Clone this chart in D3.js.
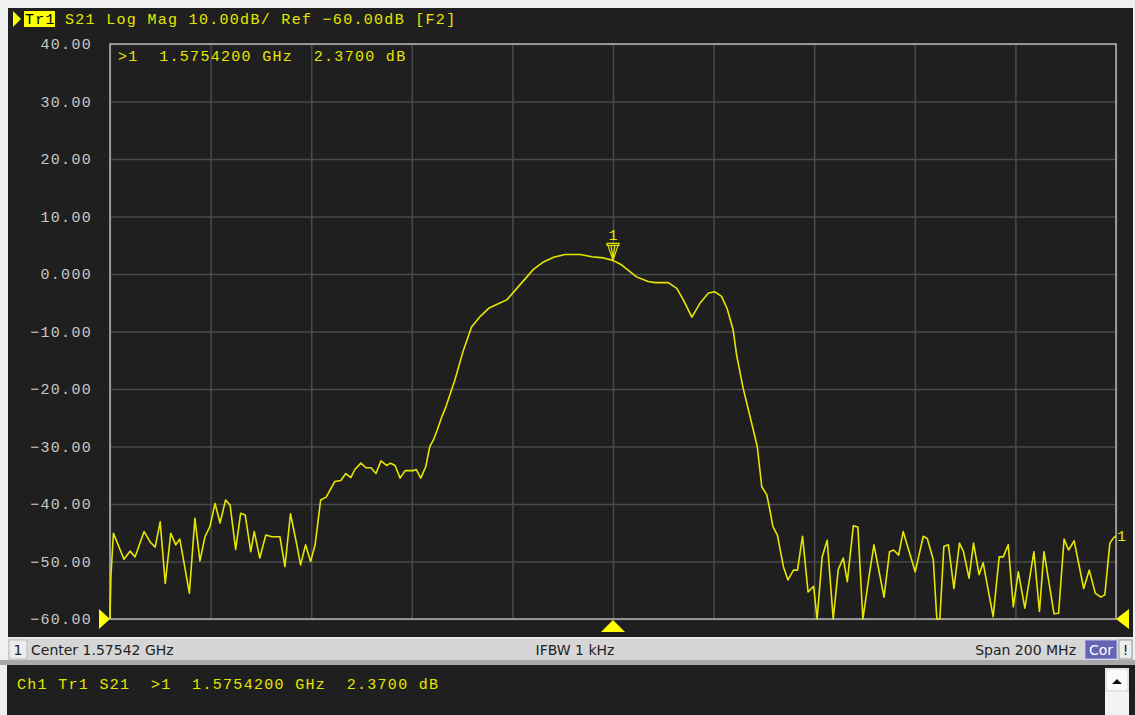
<!DOCTYPE html>
<html><head><meta charset="utf-8">
<script src="https://cdn.jsdelivr.net/npm/d3@7"></script>
<style>
html,body{margin:0;padding:0;background:#f0f0f0;}
svg{display:block;}
</style></head>
<body>
<svg id="c" width="1135" height="715"></svg>
<script>
// ---------- data ----------
const centerMHz = 1575.42;
const spanMHz = 200;
const yTickValues = [40, 30, 20, 10, 0, -10, -20, -30, -40, -50, -60];
const yTickLabels = ["40.00", "30.00", "20.00", "10.00", "0.000", "\u221210.00", "\u221220.00", "\u221230.00", "\u221240.00", "\u221250.00", "\u221260.00"];
const traceFreqMHz = [
1475.4,1475.6,1476.1,1478.2,1479.4,1480.4,1482.2,1483.4,1484.4,1485.4,
1486.4,1487.5,1488.5,1489.3,1491.2,1492.3,1493.3,1494.3,1495.3,1496.3,
1497.3,1498.4,1499.3,1500.4,1501.4,1502.3,1503.4,1504.1,1505.2,1506.4,
1507.6,1509.2,1510.2,1511.3,1512.5,1513.3,1514.3,1515.3,1516.2,1517.3,
1518.4,1520.1,1521.3,1522.3,1523.3,1524.1,1525.3,1526.3,1527.3,1528.3,
1529.3,1530.4,1531.2,1532.1,1533.1,1534.1,1535.7,1536.3,1537.2,1538.2,
1539.0,1539.7,1540.5,1541.4,1542.2,1544.0,1545.7,1547.3,1549.0,1550.8,
1552.3,1554.3,1556.6,1559.6,1561.6,1563.6,1565.9,1568.9,1571.2,1573.5,
1575.42,1577.1,1580.1,1582.4,1583.8,1586.4,1588.1,1589.4,1591.1,1592.7,
1594.4,1595.7,1597.0,1598.1,1599.3,1600.0,1601.3,1603.0,1604.1,1605.0,
1606.0,1606.6,1607.2,1608.1,1609.3,1610.2,1611.3,1612.1,1613.1,1614.2,
1615.3,1616.0,1617.0,1618.0,1619.2,1620.2,1621.2,1622.0,1623.2,1624.1,
1625.1,1626.4,1627.3,1629.3,1630.4,1631.2,1632.2,1633.1,1635.5,1637.1,
1637.9,1639.1,1639.8,1640.4,1641.2,1642.1,1643.2,1644.3,1645.1,1646.2,
1647.1,1648.2,1649.0,1651.0,1652.2,1653.0,1654.0,1655.0,1656.0,1657.3,
1659.1,1660.2,1661.1,1663.1,1664.0,1665.1,1666.0,1667.1,1669.0,1670.1,
1671.3,1672.4,1673.2,1674.2,1675.0,1675.42];
const traceDB = [
-60,-52.6,-45.1,-49.6,-48.2,-49.2,-44.8,-46.6,-47.5,-43.1,
-53.8,-45.1,-47.1,-46.1,-55.5,-42.5,-49.9,-45.7,-43.9,-39.9,
-43.3,-39.3,-40.2,-47.9,-41.6,-41.9,-48.3,-44.8,-49.4,-45.4,
-45.7,-45.7,-50.9,-41.7,-46.8,-50.6,-47.1,-50.0,-47.1,-39.3,
-38.8,-36.1,-35.9,-34.7,-35.4,-34.0,-32.9,-33.7,-33.7,-34.7,
-32.5,-33.3,-32.9,-33.3,-35.5,-34.2,-34.2,-34.0,-35.5,-33.5,
-30.0,-28.9,-27.1,-24.8,-23.1,-18.4,-13.2,-9.2,-7.4,-5.9,
-5.3,-4.5,-2.2,0.8,2.1,2.9,3.4,3.4,3.0,2.8,
2.37,1.6,-0.5,-1.3,-1.5,-1.5,-2.5,-4.5,-7.5,-5.1,
-3.3,-3.1,-3.9,-6.0,-9.7,-14.1,-19.9,-26.0,-30.0,-37.0,
-38.4,-41.0,-43.9,-45.4,-50.9,-53.2,-51.5,-51.5,-45.6,-55.3,
-54.3,-60,-49.2,-46.3,-60,-51.4,-49.4,-53.5,-43.8,-44.0,
-60,-52.1,-47.1,-56.2,-48.3,-48.0,-48.9,-44.8,-51.8,-45.6,
-46.0,-49.7,-60,-60,-47.4,-47.1,-54.7,-46.8,-48.3,-52.9,
-46.8,-52.3,-50.2,-59.6,-49.2,-49.2,-47.1,-57.9,-51.8,-58.1,
-48.3,-58.7,-48.3,-59.1,-59.0,-46.1,-48.0,-46.4,-54.7,-51.5,
-55.5,-56.2,-55.8,-46.8,-45.8,-45.6];
const markerFreqMHz = 1575.42;
const markerDB = 2.37;
const titleText = "S21 Log Mag 10.00dB/ Ref \u221260.00dB [F2]";
const markerReadout = ">1  1.5754200 GHz  2.3700 dB";
const statusLeft = "Center 1.57542 GHz";
const statusMid = "IFBW 1 kHz";
const statusRight = "Span 200 MHz";
const messageText = "Ch1 Tr1 S21  >1  1.5754200 GHz  2.3700 dB";

// ---------- layout ----------
const svg = d3.select("#c");
const W = 1135, H = 715;
const pl = 110, pr = 1116, pt = 44, pb = 619;
const yellow = "#e6e600";
const mono = "'Liberation Mono','DejaVu Sans Mono',monospace";
const sans = "Tahoma,'DejaVu Sans','Liberation Sans',sans-serif";

const x = d3.scaleLinear().domain([centerMHz - spanMHz/2, centerMHz + spanMHz/2]).range([pl, pr]);
const y = d3.scaleLinear().domain([-60, 40]).range([pb, pt]);

// backgrounds
svg.append("rect").attr("x",0).attr("y",0).attr("width",W).attr("height",H).attr("fill","#f0f0f0");
svg.append("rect").attr("x",8).attr("y",8).attr("width",1125).attr("height",629).attr("fill","#1f1f1f");
// status bar
svg.append("rect").attr("x",8).attr("y",637).attr("width",1125).attr("height",2).attr("fill","#e8e8e8");
svg.append("rect").attr("x",8).attr("y",639).attr("width",1125).attr("height",21).attr("fill","#d6d6d6");
svg.append("rect").attr("x",0).attr("y",660).attr("width",W).attr("height",5).attr("fill","#a8a8a8");
svg.append("rect").attr("x",7).attr("y",665).attr("width",1128).attr("height",50).attr("fill","#1f1f1f");

// grid
const xGridVals = d3.range(0, 11).map(i => centerMHz - spanMHz/2 + i * spanMHz/10);
const gx = svg.append("g").attr("transform", `translate(0,${pb})`)
  .call(d3.axisBottom(x).tickValues(xGridVals).tickSize(-(pb-pt)).tickFormat(""));
gx.selectAll("line").attr("stroke","#4a4a4a").attr("stroke-width",1.5);
gx.select(".domain").remove();
const gy = svg.append("g").attr("transform", `translate(${pl},0)`)
  .call(d3.axisLeft(y).tickValues(yTickValues).tickSize(-(pr-pl)).tickFormat((d,i)=>yTickLabels[i]).tickPadding(18));
gy.selectAll("line").attr("stroke","#4a4a4a").attr("stroke-width",1.5);
gy.select(".domain").remove();
gy.selectAll("text").attr("fill","#c8c8c8").attr("font-family",mono).attr("font-size","15px")
  .attr("letter-spacing","1.3px").attr("dy","0.3em");

// frame
svg.append("rect").attr("x",pl).attr("y",pt).attr("width",pr-pl).attr("height",pb-pt)
  .attr("fill","none").attr("stroke","#b4b4b4").attr("stroke-width",1.5);

// trace
const pts = traceFreqMHz.map((f,i)=>[f, Math.max(-60, traceDB[i])]);
svg.append("path").datum(pts)
  .attr("d", d3.line().x(d=>x(d[0])).y(d=>y(d[1])))
  .attr("fill","none").attr("stroke",yellow).attr("stroke-width",1.6).attr("stroke-linejoin","round");

// marker
const mx = x(markerFreqMHz), my = y(markerDB);
svg.append("path")
  .attr("d", `M${mx-6},${my-17} L${mx+6},${my-17} L${mx+6},${my-15} L${mx-6},${my-15} Z M${mx-5},${my-15} L${mx},${my} L${mx+5},${my-15} M${mx-2},${my-15} L${mx},${my-3} L${mx+2},${my-15}`)
  .attr("fill","none").attr("stroke",yellow).attr("stroke-width",1.2);
svg.append("text").attr("x",mx).attr("y",my-20).attr("text-anchor","middle")
  .attr("fill",yellow).attr("font-family",mono).attr("font-size","15px").text("1");

// trace end label
svg.append("text").attr("x",pr+1).attr("y",y(traceDB[traceDB.length-1])+5)
  .attr("fill",yellow).attr("font-family",mono).attr("font-size","15px").text("1");

// reference triangles
svg.append("path").attr("d",`M${pl-11},${pb-10} L${pl},${pb} L${pl-11},${pb+10} Z`).attr("fill","#ffff00");
svg.append("path").attr("d",`M${pr+13},${pb-10} L${pr},${pb} L${pr+13},${pb+10} Z`).attr("fill","#ffff00");
svg.append("path").attr("d",`M${x(centerMHz)-12},${pb+13} L${x(centerMHz)},${pb+1} L${x(centerMHz)+12},${pb+13} Z`).attr("fill","#ffff00");

// title
svg.append("path").attr("d","M13,11 L21,19 L13,27 Z").attr("fill","#ffff00");
svg.append("rect").attr("x",24).attr("y",11).attr("width",31).attr("height",16).attr("fill","#ffff00");
svg.append("text").attr("x",25).attr("y",24).attr("fill","#000").attr("font-family",mono)
  .attr("font-size","15px").attr("letter-spacing","1.3px").text("Tr1");
svg.append("text").attr("x",65).attr("y",24).attr("fill",yellow).attr("font-family",mono)
  .attr("font-size","15px").attr("letter-spacing","1.3px").text(titleText);

// marker readout
svg.append("text").attr("x",118).attr("y",61).attr("fill",yellow).attr("font-family",mono)
  .attr("font-size","15px").attr("letter-spacing","1.3px").attr("xml:space","preserve")
  .style("white-space","pre").text(markerReadout);

// status bar
svg.append("rect").attr("x",9).attr("y",640).attr("width",18).attr("height",19).attr("fill","#ececec").attr("stroke","#bdbdbd");
svg.append("text").attr("x",18).attr("y",655).attr("text-anchor","middle").attr("fill","#222").attr("font-family",sans).attr("font-size","14px").text("1");
svg.append("text").attr("x",31).attr("y",655).attr("fill","#222").attr("font-family",sans).attr("font-size","14px").text(statusLeft);
svg.append("text").attr("x",575).attr("y",655).attr("text-anchor","middle").attr("fill","#222").attr("font-family",sans).attr("font-size","14px").text(statusMid);
svg.append("text").attr("x",1076).attr("y",655).attr("text-anchor","end").attr("fill","#222").attr("font-family",sans).attr("font-size","14px").text(statusRight);
svg.append("rect").attr("x",1085).attr("y",640).attr("width",32).attr("height",19).attr("fill","#6464b0").attr("stroke","#d0d0ff").attr("stroke-width",0.8);
svg.append("text").attr("x",1101).attr("y",655).attr("text-anchor","middle").attr("fill","#fff").attr("font-family",sans).attr("font-size","14px").text("Cor");
svg.append("rect").attr("x",1119).attr("y",640).attr("width",13).attr("height",19).attr("fill","#ececec").attr("stroke","#9a9a9a");
svg.append("text").attr("x",1125.5).attr("y",655).attr("text-anchor","middle").attr("fill","#222").attr("font-family",sans).attr("font-size","14px").text("!");

// message area
svg.append("text").attr("x",17).attr("y",689).attr("fill",yellow).attr("font-family",mono)
  .attr("font-size","15px").attr("letter-spacing","1.3px").style("white-space","pre").text(messageText);
// scrollbar
svg.append("rect").attr("x",1105).attr("y",668).attr("width",24).attr("height",47).attr("fill","#f4f4f4");
svg.append("rect").attr("x",1106).attr("y",669).attr("width",22).attr("height",22).attr("fill","#fafafa").attr("stroke","#d0d0d0");
svg.append("path").attr("d","M1112,684 L1117,679 L1122,684 Z").attr("fill","#111");
</script>
</body></html>
